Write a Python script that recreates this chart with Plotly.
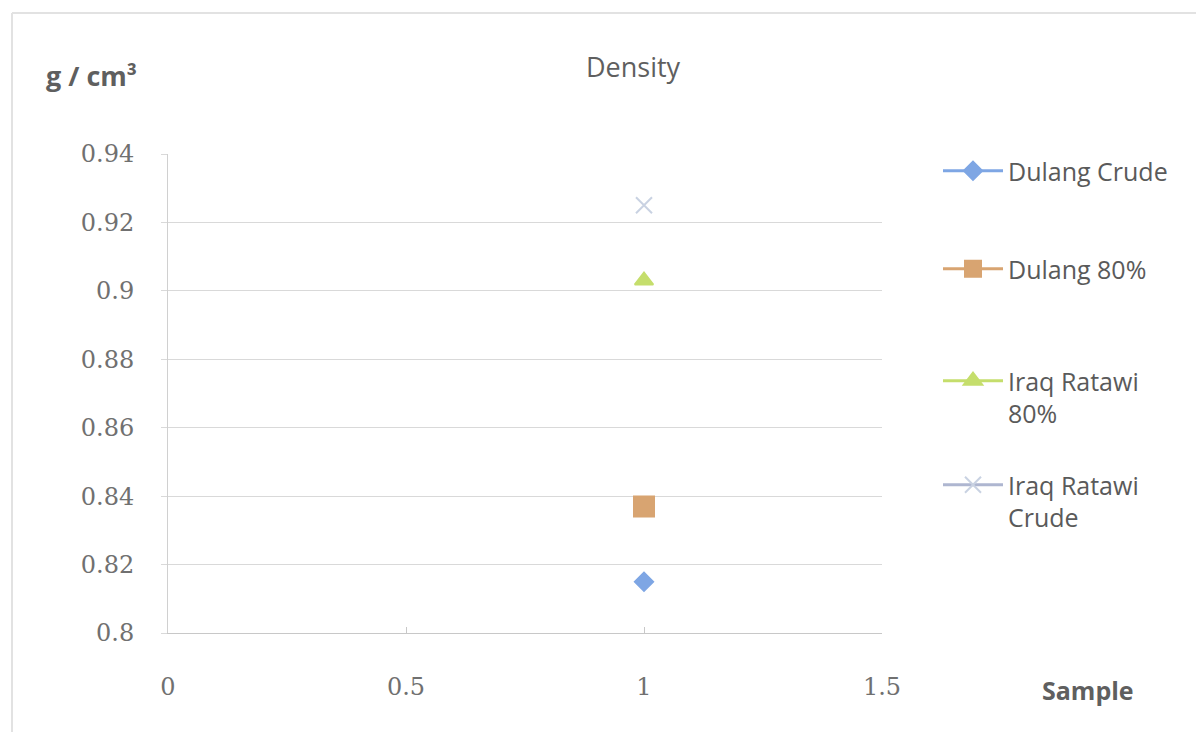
import plotly.graph_objects as go

series_names = ["Dulang Crude", "Dulang 80%", "Iraq Ratawi<br>80%", "Iraq Ratawi<br>Crude"]
sample_x = [1, 1, 1, 1]
density_values = [0.815, 0.837, 0.903, 0.925]
marker_symbols = ["diamond", "square", "triangle-up", "x-thin"]
colors = ["#7EA6E4", "#D8A471", "#C5DE6C", "#C9D2E2"]
line_colors = ["#7EA6E4", "#D8A471", "#C5DE6C", "#AEB6D0"]
marker_sizes = [14, 20, 16, 16]
x_ticks = [0, 0.5, 1, 1.5]
x_tick_labels = ["0", "0.5", "1", "1.5"]
y_ticks = [0.8, 0.82, 0.84, 0.86, 0.88, 0.9, 0.92, 0.94]
y_tick_labels = ["0.8", "0.82", "0.84", "0.86", "0.88", "0.9", "0.92", "0.94"]

OFF = 8  # page body margin
W, H = 1204 - 2 * OFF, 740 - 2 * OFF
L, T = 168 - OFF, 154 - OFF
R = W - (882 - OFF)
B = H - (633 - OFF)
pw, ph = W - L - R, H - T - B


def px(xp):
    return (xp - OFF - L) / pw


def py(yp):
    return (H - B - (yp - OFF)) / ph


legend_ids = ["legend", "legend2", "legend3", "legend4"]
legend_centers = [172, 270, 382, 486]

fig = go.Figure()
for i, name in enumerate(series_names):
    fig.add_trace(go.Scatter(
        x=[sample_x[i]], y=[density_values[i]], name=name,
        mode="lines+markers", legend=legend_ids[i],
        line=dict(color=line_colors[i], width=3),
        marker=dict(symbol=marker_symbols[i], size=marker_sizes[i], color=colors[i],
                    line=dict(color=colors[i], width=2)),
    ))

legend_font = dict(family="Open Sans", size=25, color="#5A5A5A")
legends = {}
for lid, yc in zip(legend_ids, legend_centers):
    legends[lid] = dict(x=px(938), y=py(yc - 24), xanchor="left", yanchor="top",
                        font=legend_font, itemwidth=60, valign="top",
                        bgcolor="rgba(0,0,0,0)")

tick_font = dict(family="DejaVu Serif", size=24, color="#707070")
fig.update_layout(
    width=W, height=H,
    margin=dict(l=L, r=R, t=T, b=B),
    paper_bgcolor="white", plot_bgcolor="white",
    showlegend=True,
    xaxis=dict(range=[0, 1.5], tickvals=x_ticks, ticktext=x_tick_labels,
               showgrid=False, zeroline=False, showline=True, linecolor="#C8C8C8",
               ticks="inside", ticklen=6, tickcolor="#C8C8C8",
               tickfont=tick_font, ticklabelstandoff=32),
    yaxis=dict(range=[0.8, 0.94], tickvals=y_ticks, ticktext=y_tick_labels,
               showgrid=True, gridcolor="#D9D9D9", gridwidth=1, zeroline=False,
               showline=True, linecolor="#D0D0D0",
               ticks="outside", ticklen=6, tickcolor="#D9D9D9",
               tickfont=tick_font, ticklabelstandoff=22),
    annotations=[
        dict(text="Density", x=px(633), y=py(67), xref="paper", yref="paper",
             xanchor="center", yanchor="middle", showarrow=False,
             font=dict(family="Open Sans", size=27, color="#5F5F5F")),
        dict(text="<b>g / cm³</b>", x=px(44), y=py(76), xref="paper", yref="paper",
             xanchor="left", yanchor="middle", showarrow=False,
             font=dict(family="Open Sans", size=27, color="#5F5F5F")),
        dict(text="<b>Sample</b>", x=px(1040), y=py(690), xref="paper", yref="paper",
             xanchor="left", yanchor="middle", showarrow=False,
             font=dict(family="Open Sans", size=25, color="#5F5F5F")),
    ],
    shapes=[
        dict(type="line", xref="paper", yref="paper", x0=px(12), x1=px(1204),
             y0=py(13), y1=py(13), line=dict(color="#E2E2E2", width=2)),
        dict(type="line", xref="paper", yref="paper", x0=px(12), x1=px(12),
             y0=py(13), y1=py(740), line=dict(color="#E2E2E2", width=2)),
    ],
    **legends,
)

fig.write_html("out.html")
